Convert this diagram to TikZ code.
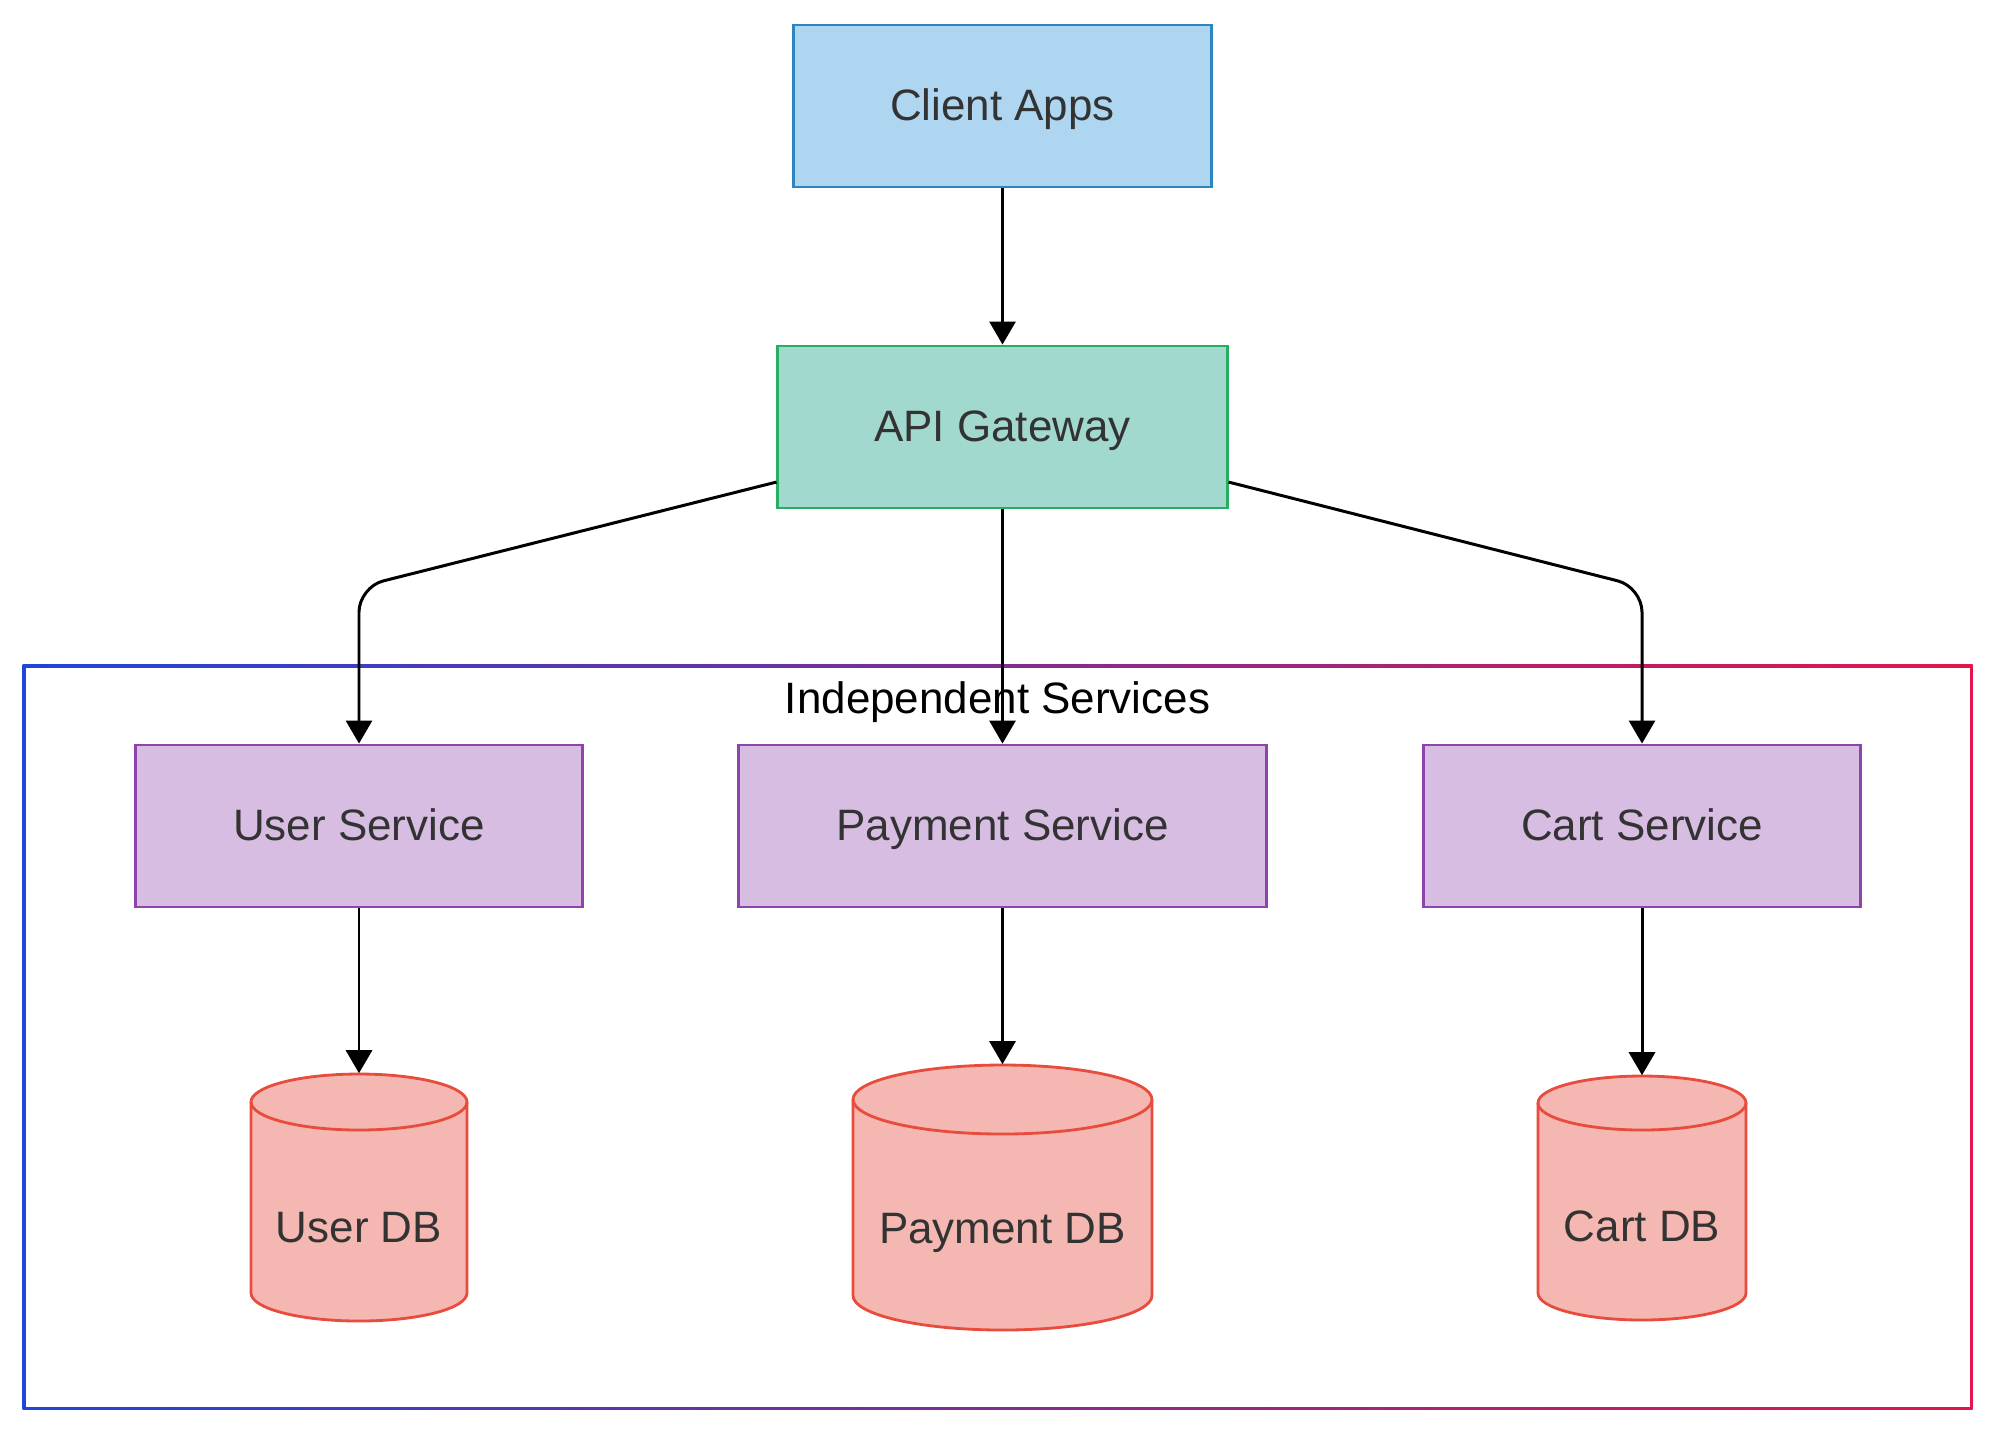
\documentclass[tikz,border=0pt]{standalone}
\usepackage{fontspec}
\setmainfont{Liberation Sans}
\usetikzlibrary{arrows.meta}
\definecolor{txt}{HTML}{333333}
\definecolor{clientfill}{HTML}{AED6F1}
\definecolor{clientdraw}{HTML}{2E86C1}
\definecolor{gwfill}{HTML}{A2D9CE}
\definecolor{gwdraw}{HTML}{27AE60}
\definecolor{svcfill}{HTML}{D7BDE2}
\definecolor{svcdraw}{HTML}{8E44AD}
\definecolor{dbfill}{HTML}{F5B7B1}
\definecolor{dbdraw}{HTML}{E74C3C}
\definecolor{clA}{HTML}{1F45D9}
\definecolor{clB}{HTML}{E3154B}
\newcommand\dbcyl[5]{%
  \draw[dbline] ({#1-#4},{-(#2)-(#5)}) -- ({#1-#4},{-(#3)+(#5)})
     arc[start angle=180,end angle=360,x radius=#4,y radius=#5]
     -- ({#1+#4},{-(#2)-(#5)})
     arc[start angle=0,end angle=180,x radius=#4,y radius=#5] -- cycle;
  \draw[dbline, fill=none] ({#1-#4},{-(#2)-(#5)})
     arc[start angle=180,end angle=360,x radius=#4,y radius=#5];
}
\begin{document}
\begin{tikzpicture}[x=0.01cm, y=0.01cm,
  lbl/.style={font=\fontsize{12.5}{15}\selectfont},
  ctext/.style={lbl, text height=0.84em, text depth=0pt},
  box/.style={ctext, rectangle, draw, line width=0.8pt, inner sep=0pt,
              minimum height=1.62cm, text=txt},
  client/.style={box, fill=clientfill, draw=clientdraw},
  gw/.style={box, fill=gwfill, draw=gwdraw},
  svc/.style={box, fill=svcfill, draw=svcdraw},
  dbtext/.style={ctext, inner sep=0pt, text=txt},
  dbline/.style={draw=dbdraw, fill=dbfill, line width=0.8pt},
  arr/.style={-{Triangle[length=0.23cm,width=0.26cm]}, line width=0.85pt, black}
]
\fill[white] (0,0) rectangle (2000,-1438);
\useasboundingbox (0,0) rectangle (2000,-1438);

% cluster with gradient border
\shade[left color=clA, right color=clB] (22.5,-664.5) rectangle (1972.5,-1409.5);
\fill[white] (25.5,-667.5) rectangle (1969.5,-1406.5);
\node[ctext, text=black, inner sep=0pt] (cl) at (997.5,-699) {Independent Services};

% nodes
\node[client, minimum width=4.17cm] (client) at (1002.5,-106) {Client Apps};
\node[gw, minimum width=4.49cm] (api) at (1002.5,-427) {API Gateway};
\node[svc, minimum width=4.46cm] (usvc) at (359,-826) {User Service};
\node[svc, minimum width=5.27cm] (psvc) at (1002.5,-826) {Payment Service};
\node[svc, minimum width=4.37cm] (csvc) at (1642,-826) {Cart Service};

% databases
\dbcyl{359}{1074}{1321}{108}{28}
\node[dbtext, minimum width=2.16cm, minimum height=1.85cm] (udb) at (359,-1227.5) {User DB};
\dbcyl{1002.5}{1065}{1330}{149.5}{34.5}
\node[dbtext, minimum width=2.99cm, minimum height=1.90cm] (pdb) at (1002.5,-1229) {Payment DB};
\dbcyl{1642}{1076}{1320}{104}{27}
\node[dbtext, minimum width=2.08cm, minimum height=1.84cm] (cdb) at (1642,-1227) {Cart DB};

% edges
\coordinate (lk) at (0,-587);
\draw[arr] (client.south) -- (api.north);
\draw[arr, rounded corners=0.25cm] ([yshift=-0.55cm]api.west) -- (usvc.north |- lk) -- (usvc.north);
\draw[arr] (api.south) -- (psvc.north);
\draw[arr, rounded corners=0.25cm] ([yshift=-0.55cm]api.east) -- (csvc.north |- lk) -- (csvc.north);
\draw[arr] (usvc.south) -- ([yshift=0.61cm]udb.north);
\draw[arr] (psvc.south) -- ([yshift=0.69cm]pdb.north);
\draw[arr] (csvc.south) -- ([yshift=0.59cm]cdb.north);
\end{tikzpicture}
\end{document}
